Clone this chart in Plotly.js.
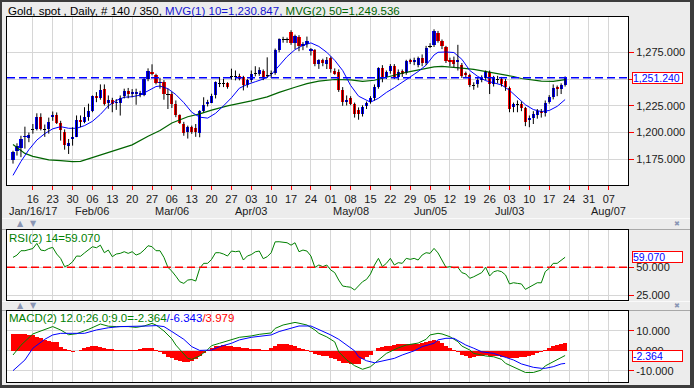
<!DOCTYPE html>
<html><head><meta charset="utf-8">
<script src="https://cdn.plot.ly/plotly-3.0.1.min.js"></script>
<style>html,body{margin:0;padding:0;background:#ececec;}#chart{width:694px;height:388px;}</style>
</head><body><div id="chart"></div>
<script>
// ---------------- DATA ----------------
// trading-day index 0..139 (Jan 09 2017 .. Jul 21 2017)
const opens = [1174,1182.5,1186,1195.5,1195,1203,1203,1215,1203,1203,1214.7,1216.6,1209.4,1201,1187.6,1194,1196,1212,1209.7,1214.3,
1220.6,1233.8,1232.5,1240.6,1227.5,1230,1227.5,1227.5,1233.8,1238.8,1235.6,1235.6,1235,1235.3,1250,1256.5,1253.4,1246,1247.5,1235.5,
1236.3,1226.3,1216,1208.2,1200.3,1205.6,1204,1199.4,1220.6,1226.3,1228.1,1235.3,1245.6,1246,1246.2,1252.5,1252.5,1252.5,1251.9,1244.1,
1249,1255,1255,1258,1253,1254.5,1255.6,1277,1286.8,1287,1294,1284,1289,1281,1282.5,1276,1277,1264,1267.5,1264,
1269.5,1258,1257,1240,1228.5,1232.5,1227,1221,1217.5,1224.5,1229,1232,1243,1260,1252,1257.5,1262,1252,1257.5,1256,
1268,1265.5,1263.5,1269.5,1265,1280.5,1281.5,1293.5,1285.5,1280,1268,1268,1266,1263.5,1255.5,1254,1244,1245,1249,1251,
1257,1245,1249.5,1250,1248,1242,1223.5,1226.3,1226.5,1223,1212,1214,1216,1220,1218.5,1229,1233,1242.5,1241,1244];
const highs = [1183,1190,1197,1205.5,1200,1208,1218,1218,1207.5,1214,1219.7,1218.8,1211,1203,1194,1205,1216,1216,1223.7,1227,
1234.7,1237.8,1245,1245,1234.7,1232.5,1231.2,1234.7,1241,1241.7,1240.6,1241,1239,1251,1260,1263.8,1255,1251.3,1249,1241,
1238,1230,1217,1210,1206.5,1206.5,1208,1221,1233,1230.6,1236.3,1247.8,1251.9,1250.3,1247,1259.7,1258,1255,1253,1250,
1258,1262,1261,1259,1270.3,1258,1278.5,1288,1289.5,1288.8,1295.6,1291.5,1291,1284.5,1289.7,1279,1278,1268.5,1269,1270.6,
1271,1260,1259,1242.5,1234.7,1234,1228,1223.5,1225.5,1229,1234,1245,1261,1263,1258,1264,1264,1259,1259,1268,
1269,1270,1271,1273,1281,1283.5,1296.5,1295,1287,1281,1270,1271,1282,1265,1257,1255,1247,1251,1253.5,1258,
1258,1253,1253,1252,1250,1243,1228,1230,1229,1224,1216,1220,1222,1222,1230,1235,1245,1244,1246,1252.5];
const lows = [1171,1178.5,1177,1185,1191,1199,1202,1202,1196,1199,1211,1208,1192.5,1184,1180,1187.8,1195.7,1205,1208.7,1211,
1219,1228.4,1230.7,1225.3,1222.2,1219,1221.2,1215.9,1231.9,1232,1233,1226,1233,1234,1248,1253.5,1245,1241,1230.7,1222,
1223,1214.4,1208,1197,1194.4,1198.8,1196,1195.6,1219,1224.4,1227.5,1231.9,1242.5,1242.5,1241,1249.4,1248.8,1248.8,1239.4,1242,
1247,1252.5,1253,1249,1251,1251,1254,1275,1284,1283.8,1282,1278,1276,1277,1279.4,1272,1262,1259.5,1262,1259.4,
1256,1254,1238,1225,1225.3,1225.5,1214,1212,1215,1222,1227,1230,1241,1247,1250,1255,1250,1249,1252,1254,
1264,1263,1261,1262,1263,1279,1280,1284,1278,1265,1262,1261,1258,1251,1251,1242.5,1240,1242,1247,1249,
1236,1243,1246,1243,1239,1219,1219,1219,1220,1206,1205,1208,1213,1214,1215,1227,1231,1234,1236,1243];
const closes = [1182,1187,1194,1197,1197.5,1203.3,1215,1203,1203.3,1209.7,1216.6,1209.4,1202,1188.5,1190.7,1196.2,1211.3,1210,1214.3,1220,
1233.8,1232,1240,1226.9,1230.7,1227,1228.8,1232.5,1238.8,1235.6,1237.8,1237.5,1237,1250.3,1258,1254.4,1246.2,1247.5,1235.6,1235,
1226.9,1216,1208.8,1199.4,1205,1200.9,1201,1220.3,1226,1228.4,1234.4,1246.9,1246.1,1246.4,1242.5,1252.8,1252.8,1250.3,1244.1,1248.8,
1255,1255.5,1258.5,1252,1253.6,1255.3,1276.9,1287,1287.3,1287.4,1284,1290.6,1281,1283,1285.5,1277.9,1264,1267.5,1265,1268,
1259,1254.5,1239.5,1229,1230,1227,1217.5,1217,1224,1228,1232.5,1243,1260,1251,1256.5,1262.5,1252,1257,1255,1267,
1266,1267.5,1269.5,1265,1279,1281,1294.5,1286,1280.5,1267,1266,1264.5,1267.5,1253,1253.5,1244,1243.6,1249,1252,1257,
1245.5,1251.5,1249.8,1245.5,1243,1222,1226.5,1226.6,1223,1210,1214,1217.5,1220,1218.5,1227.5,1233.5,1242,1241,1244.5,1251.24];

// moving averages, read at sampled bars
const ma10Idx = [0,2,4,6,8,10,12,14,16,18,20,22,24,26,28,30,32,34,36,37,39,41,43,45,47,49,51,53,55,57,59,61,63,65,67,69,71,73,75,77,79,81,83,85,87,89,90,92,94,96,98,100,102,104,106,107,109,111,113,115,117,119,121,123,125,127,129,131,133,135,137,139];
const ma10Val = [1160,1173,1184,1193,1199,1203.5,1205.5,1204,1204,1206.5,1210.5,1217,1225,1230,1233,1233.5,1235,1239,1243,1243.5,1241,1235.5,1228,1219,1214.4,1213.5,1218,1225,1232.5,1241.5,1245,1247.5,1250,1254,1262,1271,1277.5,1281.5,1283.8,1280.5,1275,1267.5,1258,1244,1234,1230,1228.4,1232,1237.5,1242,1247,1251.5,1257,1263,1272.5,1275,1275.3,1274.8,1268.5,1258,1252.5,1248.5,1246.5,1244.5,1239.5,1232.5,1226,1221.5,1219.6,1220.6,1224.5,1230.847];
const ma50Idx = [0,3,5,9,12,15,17,20,24,27,30,34,37,40,44,47,50,54,57,60,64,67,71,74,77,81,85,88,91,93,96,98,101,103,106,108,111,113,116,118,121,123,126,128,131,133,136,139];
const ma50Val = [1188.8,1180.5,1177.8,1174.5,1173.8,1172.8,1173.1,1176.7,1182,1185.5,1188.5,1196.5,1201.9,1209,1214.8,1217.5,1221,1224.9,1226.9,1229.6,1233.3,1237.6,1242.4,1245.7,1248,1249.6,1249.2,1247.8,1248.9,1251,1253.6,1255.5,1257.7,1259,1261.4,1261.9,1261.3,1260.3,1259,1257.7,1255.6,1254.4,1252.4,1250.5,1248.8,1248.1,1247.8,1249.536];

// RSI(14) per bar
const rsi = [59,61,65,65,66,67,71.6,65.6,65,67,68,62,58,50.6,52,55,60.2,60,63,65.6,
68.6,67.7,70,63.2,65.6,59.6,62,62.6,64.1,62.6,64.1,61.1,62.5,65.6,69.5,68.6,65,65,59,50,
46.5,42,37,35.5,38.5,39,37.6,49,53.6,53.6,57.2,63.2,63.2,62,60.2,64.7,64.1,64.7,56.6,60.2,
61.5,64,64.7,57.8,59.6,63.2,73,73.1,72.6,72.2,70,72.2,64.1,65.6,64.7,60.2,50,52.1,50.6,52.1,
47.6,45.2,38.5,33.1,32.5,32,29.5,33,37,39.1,44,52,58.1,50.6,53.6,58.1,52.1,54.2,53.6,58.1,
57.2,58.1,56.6,61.1,63.2,62.6,67.1,63,57,50,50.6,49.6,50,45.2,44,40.1,41.5,43.1,45.2,50,
42.2,46,47,46.1,43.1,35,36.1,35.5,35,30.1,31.9,34,36.1,36,46.1,49.1,53.6,53.6,56,59.07];

// MACD(12,26,9): line and signal read at sampled bars, histogram per bar
const macdIdx = [0,2,5,8,10,12,14,16,19,22,24,26,29,31,33,35,36,38,40,41,43,44,45,47,49,50,52,55,57,60,62,65,66,68,71,72,74,76,77,79,81,82,83,84,86,88,90,92,94,97,99,102,104,105,107,108,110,112,113,115,116,118,119,121,123,124,126,128,129,131,133,134,136,138,139];
const macdVal = [-2.1,2.8,8.5,10.8,12.2,10.5,8.1,8.6,10.8,13.5,12.4,12.2,12.2,11.8,12.5,13.8,13,10,6,2.9,-1.5,-3.8,-4.3,-2.6,0.6,2.6,3.8,5.6,6.8,7.5,8.3,9,11.3,13,14.3,13.9,13,10.5,8.8,7,4.5,-0.5,-2.5,-4.6,-7.5,-9.3,-8,-4.6,-1.3,1.5,2.9,3.9,5.8,8,8.8,8.5,7.1,4.6,2.4,0.4,-1.3,-2.1,-2.6,-3,-4.3,-6.3,-8.3,-9.9,-10.9,-10.9,-9.7,-7.6,-5.5,-3.4,-2.364];
const sigIdx = [0,3,5,8,10,12,15,18,21,24,27,30,34,36,38,40,43,45,47,50,52,55,57,60,63,65,67,70,72,75,77,80,82,84,86,87,89,91,93,96,98,101,103,106,107,109,111,112,114,116,118,121,123,126,128,131,133,134,136,138,139];
const sigVal = [-10,-4.6,1.3,5.8,8,8.8,8.8,8.8,10.5,11.6,12.2,12.2,12.5,12.7,12.2,9.7,5.8,2.1,0.2,0.4,2.1,3.8,5.5,6.8,7.6,8,9.7,11.3,12.5,12.5,10.8,8,5.8,2.9,0,-3,-5,-6,-5,-3.8,-2.1,0,2.1,3.8,5.5,6.3,6.3,5.1,2.9,1.3,-0.5,-1.3,-2.6,-4.6,-6.6,-8.3,-8.8,-8.8,-8,-6.6,-6.343];
const hist = [8.5,8.6,8.6,8.5,8.2,7.8,7,6.3,5.6,5,4.6,4.3,2,1,0.3,-0.5,-0.3,0.5,1.2,1.8,
2.2,2.4,2,1.6,1,0.8,0.6,0.6,0.5,0.4,0.5,0.6,0.8,1.3,1.6,1.2,0.6,-0.5,-1.8,-3,
-3.8,-4.5,-5,-5.4,-5.6,-5.2,-4.2,-2.8,-1.2,0.2,1.5,2.3,2.6,2.7,2.5,2.2,2,1.8,1.4,1.2,
1,1,0.8,0.5,0.4,1.3,2.4,3.2,3.4,3.2,2.8,2.2,1.4,0.9,0.4,-0.5,-1.6,-2.2,-2.6,-2.8,
-3.4,-4.2,-5.2,-6,-6.2,-6.4,-6.6,-6.4,-4,-3.2,-2.2,-0.2,1.6,2,2.4,2.6,3,3.2,3.4,3.4,
3.3,3.2,3.5,3.8,4.4,4.8,5.2,4.8,3.8,2.5,1.5,0.5,-0.8,-2,-2.8,-3.6,-3.2,-2.8,-2.4,-2.2,
-2.6,-2.6,-2.8,-3,-3.3,-3.6,-3.6,-3.4,-3.2,-3,-2.6,-2,-1.3,-0.6,0.4,1.4,2.2,2.8,3.5,3.979];

// axis ticks
const weekTickIdx = [5,10,15,20,25,30,35,40,45,50,55,60,65,70,75,80,85,90,95,100,105,110,115,120,125,130,135,140,145,150];
const weekTickText = ['16','23','30','06','13','20','27','06','13','20','27','03','10','17','24','01','08','15','22','29','05','12','19','26','03','10','17','24','31','07'];
const monthIdx = [5,20,40,60,85,105,125,150];
const monthText = ['Jan/16/17','Feb/06','Mar/06','Apr/03','May/08','Jun/05','Jul/03','Aug/07'];
const priceTicks = [1175,1200,1225,1250,1275];
const priceTickText = ['1,175.000','1,200.000','1,225.000','','1,275.000']; // 1,250 is hidden under the last-price box
const rsiTicks = [25,50];
const rsiTickText = ['25.000','50.000'];
const macdTicks = [-10,0,10];
const macdTickText = ['-10.000','0.000','10.000'];
const rsiMid = 50;
const lastClose = 1251.24, lastRsi = 59.07, lastMacd = -2.364;
const titleMain = 'Gold, spot , Daily, # 140 / 350, ';
const titleMa10 = 'MVG(1) 10=1,230.847, ';
const titleMa50 = 'MVG(2) 50=1,249.536';

// ---------------- BUILD ----------------
const W = 694, H = 388;
const FONT = 'Liberation Sans, Arial, sans-serif';
const px = v => v / W, py = v => 1 - v / H;
const n = closes.length;
const idx = closes.map((_, i) => i);

const BLUE = '#0000ff', RED = '#ff0000', GREEN = '#008000', DGREEN = '#006400';

// wicks
const wx = [], wy = [];
for (let i = 0; i < n; i++) { wx.push(i, i, null); wy.push(lows[i], highs[i], null); }
// bodies
const bBase = [], bH = [], bCol = [];
for (let i = 0; i < n; i++) {
  const d = closes[i] - opens[i];
  const h = Math.max(Math.abs(d), 0.9);
  bBase.push((opens[i] + closes[i]) / 2 - h / 2);
  bH.push(h);
  bCol.push(Math.abs(d) < 1 ? '#000000' : (d > 0 ? BLUE : RED));
}

const xr = [-1.51, 154.83];
const traces = [
  {type:'scatter', mode:'lines', x:ma50Idx, y:ma50Val, line:{color:DGREEN, width:1.2}, xaxis:'x', yaxis:'y', hoverinfo:'skip'},
  {type:'scatter', mode:'lines', x:ma10Idx, y:ma10Val, line:{color:BLUE, width:1}, xaxis:'x', yaxis:'y', hoverinfo:'skip'},
  {type:'scatter', mode:'lines', x:wx, y:wy, line:{color:'#000', width:1}, connectgaps:false, xaxis:'x', yaxis:'y', hoverinfo:'skip'},
  {type:'bar', x:idx, y:bH, base:bBase, width:0.8, marker:{color:bCol, line:{width:0}}, xaxis:'x', yaxis:'y', hoverinfo:'skip'},
  {type:'scatter', mode:'lines', x:idx, y:rsi, line:{color:GREEN, width:1}, xaxis:'x2', yaxis:'y2', hoverinfo:'skip'},
  {type:'bar', x:idx, y:hist, width:1.02, marker:{color:RED, line:{width:0}}, xaxis:'x3', yaxis:'y3', hoverinfo:'skip'},
  {type:'scatter', mode:'lines', x:macdIdx, y:macdVal, line:{color:GREEN, width:1}, xaxis:'x3', yaxis:'y3', hoverinfo:'skip'},
  {type:'scatter', mode:'lines', x:sigIdx, y:sigVal, line:{color:BLUE, width:1}, xaxis:'x3', yaxis:'y3', hoverinfo:'skip'}
];

const xDom = [px(7), px(628)];
const gridC = '#d6d6d6';
const tickF = {family:FONT, size:11, color:'#1a1a1a'};
function xAx(anchor, labels) {
  return {domain:xDom, range:xr, anchor:anchor, tickmode:'array', tickvals:weekTickIdx, ticktext:weekTickText,
    showticklabels:labels, ticks:labels ? 'outside' : '', ticklen:4, tickcolor:RED, tickwidth:1,
    showline:true, mirror:true, linecolor:'#000', linewidth:1, showgrid:true, gridcolor:gridC, gridwidth:1,
    zeroline:false, tickfont:tickF, fixedrange:true};
}
function yAx(anchor, dom, range, tv, tt) {
  return {domain:dom, range:range, anchor:anchor, side:'right', tickmode:'array', tickvals:tv, ticktext:tt,
    ticks:'outside', ticklen:5, tickcolor:RED, tickwidth:1, showline:true, mirror:true, linecolor:'#000', linewidth:1,
    showgrid:true, gridcolor:gridC, zeroline:false, tickfont:tickF, fixedrange:true};
}

const annotations = [];
// title
annotations.push({xref:'paper', yref:'paper', x:px(6), y:py(10.5), xanchor:'left', yanchor:'middle', showarrow:false,
  text: titleMain + '<span style="color:#1414d2">' + titleMa10 + '</span><span style="color:' + DGREEN + '">' + titleMa50 + '</span>',
  font:{family:FONT, size:11.5, color:'#000'}});
annotations.push({xref:'paper', yref:'paper', x:px(7), y:py(237.5), xanchor:'left', yanchor:'middle', showarrow:false,
  text:'RSI(2) 14=59.070', font:{family:FONT, size:11.5, color:GREEN}});
annotations.push({xref:'paper', yref:'paper', x:px(7), y:py(318), xanchor:'left', yanchor:'middle', showarrow:false,
  text:'MACD(2) 12.0;26.0;9.0=-2.364<span style="color:#0000ff">/-6.343</span><span style="color:#ff0000">/3.979</span>',
  font:{family:FONT, size:11.5, color:GREEN}});
// month labels
monthIdx.forEach((m, k) => annotations.push({xref:'x', yref:'paper', x:m, y:py(211.5), xanchor:'center', yanchor:'middle',
  showarrow:false, text:monthText[k], font:tickF}));
// value boxes
function box(yref, yv, txt) {
  annotations.push({xref:'paper', yref:yref, x:px(632), y:yv, xanchor:'left', yanchor:'middle', showarrow:false,
    text:txt, align:'left', width:49, height:10, bgcolor:'#ffffff', bordercolor:RED, borderwidth:1, borderpad:0,
    font:{family:FONT, size:10.5, color:BLUE}});
}
box('y', lastClose, '1,251.240');
box('y2', lastRsi, '59.070');
box('y3', lastMacd, '-2.364');
// panel arrows and close marks
[224, 305.5].forEach(yy => {
  const f = {family:'DejaVu Sans', size:8, color:'#8a96b4'};
  annotations.push({xref:'paper', yref:'paper', x:px(20), y:py(yy), xanchor:'center', yanchor:'middle', showarrow:false, text:'▲', font:f});
  annotations.push({xref:'paper', yref:'paper', x:px(33), y:py(yy), xanchor:'center', yanchor:'middle', showarrow:false, text:'▼', font:f});
  annotations.push({xref:'paper', yref:'paper', x:px(677), y:py(yy), xanchor:'center', yanchor:'middle', showarrow:false, text:'✖', font:{family:'DejaVu Sans', size:7, color:'#8a96b4'}});
});

const shapes = [
  // dashed last-price line
  {type:'line', xref:'paper', yref:'y', x0:xDom[0], x1:xDom[1], y0:lastClose, y1:lastClose, line:{color:BLUE, width:1.5, dash:'8px,4px'}},
  // RSI mid line
  {type:'line', xref:'paper', yref:'y2', x0:xDom[0], x1:xDom[1], y0:rsiMid, y1:rsiMid, line:{color:RED, width:1.5, dash:'8px,4px'}},
  // strip separators
  {type:'line', xref:'paper', yref:'paper', x0:0, x1:1, y0:py(218.5), y1:py(218.5), line:{color:'#fafafa', width:1}, layer:'below'},
  {type:'line', xref:'paper', yref:'paper', x0:0, x1:1, y0:py(229.5), y1:py(229.5), line:{color:'#a8a8a8', width:1}, layer:'below'},
  {type:'line', xref:'paper', yref:'paper', x0:0, x1:1, y0:py(301.5), y1:py(301.5), line:{color:'#fafafa', width:1}, layer:'below'},
  {type:'line', xref:'paper', yref:'paper', x0:0, x1:1, y0:py(310.5), y1:py(310.5), line:{color:'#a8a8a8', width:1}, layer:'below'},
  // outer frame
  {type:'rect', xref:'paper', yref:'paper', x0:0, x1:px(2), y0:0, y1:1, fillcolor:'#3c3c3c', line:{width:0}},
  {type:'rect', xref:'paper', yref:'paper', x0:0, x1:1, y0:py(2), y1:1, fillcolor:'#3c3c3c', line:{width:0}},
  {type:'rect', xref:'paper', yref:'paper', x0:px(690), x1:1, y0:0, y1:1, fillcolor:'#3c3c3c', line:{width:0}},
  {type:'rect', xref:'paper', yref:'paper', x0:0, x1:1, y0:0, y1:py(385), fillcolor:'#3c3c3c', line:{width:0}}
];

const layout = {
  width:W, height:H, margin:{l:0, r:0, t:0, b:0, pad:0}, paper_bgcolor:'#ececec', plot_bgcolor:'#ffffff',
  showlegend:false, barmode:'overlay', bargap:0, dragmode:false, hovermode:false,
  font:{family:FONT, size:11, color:'#1a1a1a'},
  xaxis:xAx('y', true),
  yaxis:yAx('x', [py(185), py(17)], [1151.0, 1308.0], priceTicks, priceTickText),
  xaxis2:xAx('y2', false),
  yaxis2:yAx('x2', [py(300), py(230)], [20.5, 83.7], rsiTicks, rsiTickText),
  xaxis3:xAx('y3', false),
  yaxis3:yAx('x3', [py(382), py(311)], [-15.7, 20.05], macdTicks, macdTickText),
  annotations:annotations, shapes:shapes
};

Plotly.newPlot('chart', traces, layout, {staticPlot:true, displayModeBar:false});
</script></body></html>
